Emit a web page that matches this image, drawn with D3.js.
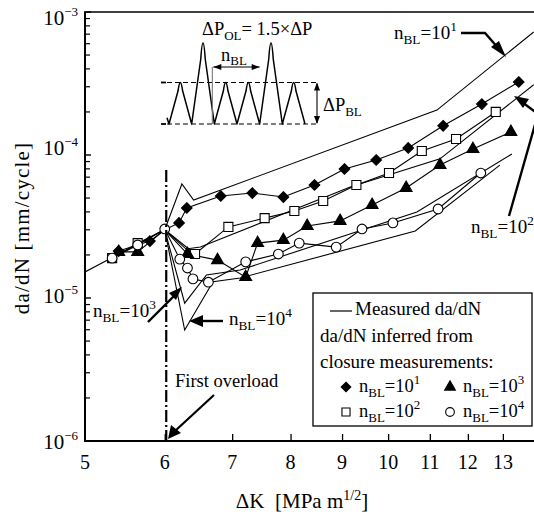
<!DOCTYPE html>
<html>
<head>
<meta charset="utf-8">
<script src="https://cdn.jsdelivr.net/npm/d3@7"></script>
<style>
  html, body { margin: 0; padding: 0; background: #fff; }
  svg { display: block; }
  svg text { font-family: "Liberation Serif", "Times New Roman", Times, Tinos, "Nimbus Roman", "Nimbus Roman No9 L", FreeSerif, "Noto Serif", "DejaVu Serif", serif; fill: #000; }
</style>
</head>
<body>
<svg id="chart" width="534" height="514"></svg>
<script>
// Stress intensity range (MPa m^1/2) and crack growth rate (mm/cycle)
const xTicks = [5, 6, 7, 8, 9, 10, 11, 12, 13];
const yTicks = [1e-6, 1e-5, 1e-4, 1e-3];
const yTickLabels = ["10", "10", "10", "10"];
const yTickExps = ["\u22126", "\u22125", "\u22124", "\u22123"];

// First overload: shared point where all curves meet
const overloadDK = 6.0;
const overloadRate = 3.0e-5;

// Measured da/dN curves (solid lines)
const measuredPreDK   = [5.0, 6.0];
const measuredPreRate = [1.52e-5, 3.0e-5];
const measured1DK     = [6.0, 6.24, 6.41, 11.18, 13.95];
const measured1Rate   = [3.0e-5, 6.27e-5, 4.84e-5, 2.06e-4, 7.25e-4];
const measured2DK     = [6.0, 6.3, 6.51, 9.17, 11.26, 13.95];
const measured2Rate   = [3.0e-5, 2.2e-5, 2.27e-5, 5.97e-5, 9.4e-5, 3.1e-4];
const measured3DK     = [6.0, 6.28, 6.6, 7.13, 10.68, 13.27];
const measured3Rate   = [3.0e-5, 9.2e-6, 1.45e-5, 1.57e-5, 3.99e-5, 1.016e-4];
const measured4DK     = [6.0, 6.28, 6.7, 7.13, 10.64, 12.91];
const measured4Rate   = [3.0e-5, 5.97e-6, 1.3e-5, 1.38e-5, 2.94e-5, 8.5e-5];

// da/dN inferred from closure measurements
const closure1DK   = [5.40, 5.80, 6.20, 6.31, 6.82, 7.33, 7.87, 8.45, 9.05, 9.73, 10.47, 11.34, 12.39, 13.48];
const closure1Rate = [2.13e-5, 2.50e-5, 3.35e-5, 4.26e-5, 5.17e-5, 5.42e-5, 5.08e-5, 6.17e-5, 7.98e-5, 9.23e-5, 1.12e-4, 1.60e-4, 2.27e-4, 3.24e-4];
const closure2DK   = [5.32, 5.64, 6.43, 6.94, 7.54, 8.07, 8.62, 9.30, 10.02, 10.80, 11.68, 12.79];
const closure2Rate = [1.90e-5, 2.42e-5, 2.03e-5, 3.14e-5, 3.62e-5, 4.06e-5, 4.77e-5, 6.17e-5, 7.48e-5, 1.067e-4, 1.294e-4, 2.0e-4];
const closure3DK   = [5.40, 5.64, 6.32, 6.77, 7.22, 7.42, 7.87, 8.31, 8.96, 9.64, 10.42, 11.26, 12.14, 13.24];
const closure3Rate = [2.10e-5, 2.10e-5, 2.03e-5, 1.84e-5, 1.40e-5, 2.42e-5, 2.54e-5, 3.19e-5, 3.46e-5, 4.47e-5, 5.88e-5, 8.51e-5, 1.10e-4, 1.448e-4];
const closure4DK   = [5.32, 5.64, 6.0, 6.21, 6.32, 6.40, 6.63, 7.22, 7.78, 8.16, 8.88, 9.42, 10.11, 11.21, 12.36];
const closure4Rate = [1.90e-5, 2.35e-5, 3.04e-5, 1.87e-5, 1.62e-5, 1.36e-5, 1.29e-5, 1.79e-5, 2.03e-5, 2.42e-5, 2.27e-5, 3.04e-5, 3.35e-5, 4.19e-5, 7.48e-5];

// Load waveform sketch: peak heights relative to the baseline block amplitude
const wavePeaks = [1, 1.95, 1, 1, 1.95, 1];

const svg = d3.select("#chart");
const plotL = 85, plotT = 12, plotB = 441;
const pxPerDecadeX = 1007;
const plotR = plotL + pxPerDecadeX * Math.log10(14 / 5);

const x = d3.scaleLog().domain([5, 14]).range([plotL, plotR]);
const y = d3.scaleLog().domain([1e-6, 1e-3]).range([plotB, plotT]);

const zip = (a, b) => a.map((v, i) => [v, b[i]]);
const line = d3.line().x(d => x(d[0])).y(d => y(d[1]));

// Closure curve: marker points joined through the shared overload point
function withOverload(pts) {
  if (pts.some(p => p[0] === overloadDK)) return pts;
  return pts.concat([[overloadDK, overloadRate]]).sort((a, b) => a[0] - b[0]);
}

const clipId = "plotclip";
svg.append("clipPath").attr("id", clipId).append("rect")
  .attr("x", plotL).attr("y", plotT).attr("width", plotR - plotL).attr("height", plotB - plotT);
const plot = svg.append("g").attr("clip-path", `url(#${clipId})`);

// Measured curves
[[measuredPreDK, measuredPreRate], [measured1DK, measured1Rate], [measured2DK, measured2Rate],
 [measured3DK, measured3Rate], [measured4DK, measured4Rate]].forEach(([dk, r]) => {
  plot.append("path").attr("d", line(zip(dk, r)))
    .attr("fill", "none").attr("stroke", "#000").attr("stroke-width", 1.1);
});

// Closure-based series
const series = [
  { dk: closure1DK, r: closure1Rate, sym: d3.symbolDiamond2, size: 72, fill: "#000" },
  { dk: closure2DK, r: closure2Rate, sym: d3.symbolSquare, size: 82, fill: "#fff" },
  { dk: closure3DK, r: closure3Rate, sym: d3.symbolTriangle, size: 62, fill: "#000" },
  { dk: closure4DK, r: closure4Rate, sym: d3.symbolCircle, size: 74, fill: "#fff" }
];
series.forEach(s => {
  plot.append("path").attr("d", line(withOverload(zip(s.dk, s.r))))
    .attr("fill", "none").attr("stroke", "#000").attr("stroke-width", 1.1);
});
series.forEach(s => {
  const sym = d3.symbol().type(s.sym).size(s.size);
  plot.append("g").selectAll("path").data(zip(s.dk, s.r)).join("path")
    .attr("transform", d => `translate(${x(d[0])},${y(d[1])})`)
    .attr("d", sym())
    .attr("fill", s.fill).attr("stroke", "#000").attr("stroke-width", 1.1);
});

// First overload marker (dash-dot line at ΔK = 6)
svg.append("line")
  .attr("x1", x(overloadDK) + 1.5).attr("x2", x(overloadDK) + 1.5).attr("y1", 170).attr("y2", plotB)
  .attr("stroke", "#000").attr("stroke-width", 2.2)
  .attr("stroke-dasharray", "12,3,2,3");

// Axes
svg.append("line").attr("x1", plotL).attr("x2", plotL).attr("y1", plotT).attr("y2", plotB)
  .attr("stroke", "#000").attr("stroke-width", 2);
svg.append("line").attr("x1", plotL - 1).attr("x2", 534).attr("y1", plotB).attr("y2", plotB)
  .attr("stroke", "#000").attr("stroke-width", 2);
svg.append("line").attr("x1", plotL - 1).attr("x2", 534).attr("y1", plotT).attr("y2", plotT)
  .attr("stroke", "#000").attr("stroke-width", 1.6);

// x ticks (inside)
const xAxis = d3.axisTop(x).tickValues(xTicks.slice(1)).tickSize(7).tickFormat("");
svg.append("g").attr("transform", `translate(0,${plotB})`).call(xAxis)
  .call(g => g.select(".domain").remove())
  .call(g => g.selectAll("line").attr("stroke-width", 1.3));
svg.append("g").selectAll("text").data(xTicks).join("text")
  .attr("x", d => x(d)).attr("y", plotB + 28)
  .attr("text-anchor", "middle").attr("font-size", 20).text(d => d);

// y ticks: majors and minors, inside
const yMinor = [];
for (let e = -6; e < -3; e++) for (let m = 2; m <= 9; m++) yMinor.push(m * Math.pow(10, e));
svg.append("g").selectAll("line").data(yMinor).join("line")
  .attr("x1", plotL).attr("x2", plotL + 5).attr("y1", d => y(d)).attr("y2", d => y(d))
  .attr("stroke", "#000").attr("stroke-width", 1.2);
svg.append("g").selectAll("line").data(yTicks).join("line")
  .attr("x1", plotL).attr("x2", plotL + 6).attr("y1", d => y(d)).attr("y2", d => y(d))
  .attr("stroke", "#000").attr("stroke-width", 1.4);
const yLabelShift = [8, 5, 0, 13];
const yl = svg.append("g").selectAll("text").data(yTicks).join("text")
  .attr("x", plotL - 7).attr("y", (d, i) => y(d) + yLabelShift[i])
  .attr("text-anchor", "end").attr("font-size", 21);
yl.append("tspan").text((d, i) => yTickLabels[i]);
yl.append("tspan").attr("dy", -9).attr("font-size", 13).text((d, i) => yTickExps[i]);

// Axis titles
const xt = svg.append("text").attr("x", 302).attr("y", 508).attr("text-anchor", "middle").attr("font-size", 21);
xt.append("tspan").text("\u0394K\u00a0\u00a0[MPa m");
xt.append("tspan").attr("dy", -8).attr("font-size", 14).text("1/2");
xt.append("tspan").attr("dy", 8).text("]");
svg.append("text").attr("transform", "translate(29,228) rotate(-90)")
  .attr("text-anchor", "middle").attr("font-size", 21).attr("letter-spacing", 1.2)
  .text("da/dN [mm/cycle]");

// Label helper: "n_BL=10^k"
function nbl(g, xp, yp, k, size) {
  const t = g.append("text").attr("x", xp).attr("y", yp).attr("font-size", size);
  t.append("tspan").text("n");
  t.append("tspan").attr("dy", 5).attr("font-size", size * 0.7).text("BL");
  t.append("tspan").attr("dy", -5).text("=10");
  t.append("tspan").attr("dy", -8).attr("font-size", size * 0.7).text(k);
  return t;
}

// Curve labels and pointers
const ann = svg.append("g");
nbl(ann, 394, 39, "1", 19);
ann.append("path").attr("d", "M461,33 L485,33 L499,49").attr("fill", "none").attr("stroke", "#000").attr("stroke-width", 2.4);
ann.append("path").attr("d", "M506,57 L491,47 L499,41 Z").attr("fill", "#000");

nbl(ann, 471, 233, "2", 19);
ann.append("path").attr("d", "M509,216 L538,114 L522,102").attr("fill", "none").attr("stroke", "#000").attr("stroke-width", 2.4);
ann.append("path").attr("d", "M514,96 L529,99 L523,108 Z").attr("fill", "#000");

nbl(ann, 93, 317, "3", 19);
ann.append("path").attr("d", "M148,322 L175,295").attr("fill", "none").attr("stroke", "#000").attr("stroke-width", 2.4);
ann.append("path").attr("d", "M182,287 L169,293 L176,300 Z").attr("fill", "#000");

nbl(ann, 229, 325, "4", 19);
ann.append("path").attr("d", "M223,321 L197,321").attr("fill", "none").attr("stroke", "#000").attr("stroke-width", 2.4);
ann.append("path").attr("d", "M189,321 L203,315 L203,327 Z").attr("fill", "#000");

ann.append("text").attr("x", 175).attr("y", 387).attr("font-size", 18.5).text("First overload");
ann.append("path").attr("d", "M214,395 L175,431").attr("fill", "none").attr("stroke", "#000").attr("stroke-width", 2.2);
ann.append("path").attr("d", "M168,439 L171,425 L181,433 Z").attr("fill", "#000");

// Load waveform sketch
const wave = svg.append("g");
const tx = d3.scaleLinear().domain([0, 12]).range([169, 305]);
const ly = d3.scaleLinear().domain([0, 1]).range([124, 82.5]);
const wp = d3.path();
wp.moveTo(tx(0) - 2, ly(0.15));
wp.lineTo(tx(0), ly(0));
const f = 0.8;
wavePeaks.forEach((p, i) => {
  const x0 = tx(2 * i), xp = tx(2 * i + 1), x1 = tx(2 * i + 2);
  const ax = x0 + (xp - x0) * f, ay = ly(p * f);
  const bx = x1 - (x1 - xp) * f;
  wp.lineTo(ax, ay);
  wp.quadraticCurveTo(xp, 2 * ly(p) - ay, bx, ay);
  wp.lineTo(x1, ly(0));
});
wave.append("path").attr("d", wp.toString())
  .attr("fill", "none").attr("stroke", "#000").attr("stroke-width", 1.5).attr("stroke-linejoin", "round");
[0, 1].forEach(l => {
  wave.append("line").attr("x1", 167).attr("x2", 319).attr("y1", ly(l)).attr("y2", ly(l))
    .attr("stroke", "#000").attr("stroke-width", 1.2).attr("stroke-dasharray", "5,3");
  wave.append("line").attr("x1", 161).attr("x2", 166).attr("y1", ly(l)).attr("y2", ly(l))
    .attr("stroke", "#000").attr("stroke-width", 1.8);
});
wave.append("line").attr("x1", tx(4) - 2).attr("x2", tx(4) - 2).attr("y1", 67).attr("y2", ly(0))
  .attr("stroke", "#777").attr("stroke-width", 1.1);
wave.append("line").attr("x1", tx(4) - 1).attr("x2", tx(8)).attr("y1", 67).attr("y2", 67)
  .attr("stroke", "#000").attr("stroke-width", 1.1);
wave.append("path").attr("d", `M${tx(8)},67 l-8,-3 l0,6 Z`).attr("fill", "#000");
wave.append("path").attr("d", `M${tx(4) - 1},67 l8,-3 l0,6 Z`).attr("fill", "#000");
wave.append("line").attr("x1", 317).attr("x2", 317).attr("y1", ly(1) + 1).attr("y2", ly(0) - 1)
  .attr("stroke", "#000").attr("stroke-width", 1.1);
wave.append("path").attr("d", `M317,${ly(1)} l-3,8 l6,0 Z`).attr("fill", "#000");
wave.append("path").attr("d", `M317,${ly(0)} l-3,-8 l6,0 Z`).attr("fill", "#000");

const t1 = wave.append("text").attr("x", 202).attr("y", 35).attr("font-size", 18.5);
t1.append("tspan").text("\u0394P");
t1.append("tspan").attr("dy", 5).attr("font-size", 13).text("OL");
t1.append("tspan").attr("dy", -5).text("= 1.5\u00d7\u0394P");
const t2 = wave.append("text").attr("x", 221).attr("y", 61).attr("font-size", 18.5);
t2.append("tspan").text("n");
t2.append("tspan").attr("dy", 4).attr("font-size", 13).text("BL");
const t3 = wave.append("text").attr("x", 323).attr("y", 111).attr("font-size", 18.5);
t3.append("tspan").text("\u0394P");
t3.append("tspan").attr("dy", 5).attr("font-size", 13).text("BL");

// Legend
const lg = svg.append("g");
lg.append("rect").attr("x", 313).attr("y", 293).attr("width", 219).attr("height", 133)
  .attr("fill", "#fff").attr("stroke", "#000").attr("stroke-width", 1.3);
lg.append("line").attr("x1", 330).attr("x2", 352).attr("y1", 311).attr("y2", 311)
  .attr("stroke", "#000").attr("stroke-width", 1.2);
lg.append("text").attr("x", 355).attr("y", 315).attr("font-size", 19).text("Measured da/dN");
lg.append("text").attr("x", 320).attr("y", 342).attr("font-size", 19).text("da/dN inferred from");
lg.append("text").attr("x", 320).attr("y", 368).attr("font-size", 19).text("closure measurements:");
const legendItems = [
  { s: series[0], k: "1", cx: 346, cy: 387 },
  { s: series[2], k: "3", cx: 450, cy: 387 },
  { s: series[1], k: "2", cx: 346, cy: 412 },
  { s: series[3], k: "4", cx: 450, cy: 412 }
];
legendItems.forEach(it => {
  lg.append("path").attr("transform", `translate(${it.cx},${it.cy})`)
    .attr("d", d3.symbol().type(it.s.sym).size(it.s.size * 0.8)())
    .attr("fill", it.s.fill).attr("stroke", "#000").attr("stroke-width", 1.1);
  nbl(lg, it.cx + 13, it.cy + 5, it.k, 18.5);
});
</script>
</body>
</html>
